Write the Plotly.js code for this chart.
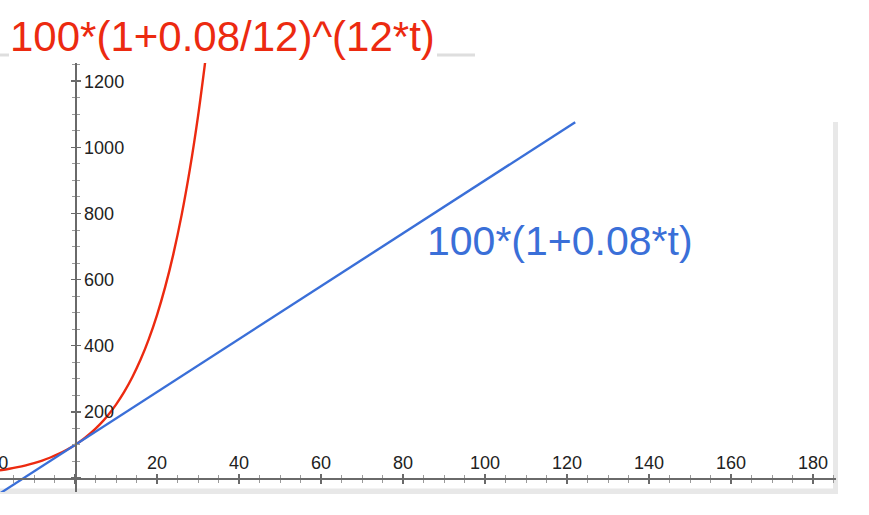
<!DOCTYPE html>
<html>
<head>
<meta charset="utf-8">
<script src="https://cdn.plot.ly/plotly-3.0.1.min.js"></script>
<style>
  html, body { margin: 0; padding: 0; background: #fff; overflow: hidden; }
  #wrap { width: 869px; height: 515px; overflow: hidden; position: relative; }
  #chart { position: absolute; left: -30px; top: 0; width: 899px; height: 515px; }
</style>
</head>
<body>
<div id="wrap"><div id="chart"></div></div>
<script>
// Compound interest curve: t (years) vs value
const compoundT = [-18.3, -16, -14, -12, -10, -8, -6, -4, -2, 0, 2, 4, 6, 8, 10, 12, 14, 16, 18, 20, 22, 24, 26, 28, 30, 32];
const compoundV = [23.3, 27.9, 32.7, 38.4, 45.0, 52.8, 62.0, 72.7, 85.3, 100, 117.3, 137.6, 161.4, 189.2, 222.0, 260.3, 305.4, 358.1, 420.1, 492.7, 577.9, 677.8, 795.0, 932.5, 1093.7, 1282.8];
// Simple interest line
const simpleT = [-18.3, 0, 122];
const simpleV = [-46.4, 100, 1076];

const compoundLabel = '100*(1+0.08/12)^(12*t)';
const simpleLabel = '100*(1+0.08*t)';

const SHIFT = 30;           // px the figure is shifted left
const PW = 866;             // plot width in px
const PT = 63, PB = 492;    // plot top / bottom in viewport px
const PH = PB - PT;
const px = v => (v + SHIFT) / PW;
const py = v => (PB - v) / PH;

const xRange = [(-SHIFT - 75) / 4.1, (836 - 75) / 4.1];
const yRange = [(478 - PB) / 0.33067, (478 - PT) / 0.33067];

const font = 'Liberation Sans, Arial, Helvetica, sans-serif';
const axisCol = '#6a6a6a';

const traces = [
  { x: compoundT, y: compoundV, type: 'scatter', mode: 'lines', line: { color: '#ec2a10', width: 2.4, shape: 'spline' }, hoverinfo: 'skip' },
  { x: simpleT, y: simpleV, type: 'scatter', mode: 'lines', line: { color: '#3a6fd8', width: 2.4 }, hoverinfo: 'skip' },
  { x: [], y: [], xaxis: 'x2', yaxis: 'y2', type: 'scatter', mode: 'lines', hoverinfo: 'skip', showlegend: false }
];

const xCommon = {
  range: xRange, anchor: 'free', position: py(478), side: 'top',
  showgrid: false, zeroline: false, showline: true, linecolor: axisCol, linewidth: 1.5,
  tickmode: 'linear', tick0: 0, dtick: 20, ticklen: 4, tickwidth: 1.5, tickcolor: axisCol,
  minor: { tickmode: 'linear', tick0: 0, dtick: 5, ticklen: 3, tickwidth: 1, tickcolor: '#9a9a9a', showgrid: false },
  fixedrange: true
};
const yCommon = {
  range: yRange, anchor: 'free', position: px(75), side: 'right',
  showgrid: false, zeroline: false, showline: true, linecolor: axisCol, linewidth: 1.5,
  tickmode: 'linear', tick0: 0, dtick: 200, ticklen: 4, tickwidth: 1.5, tickcolor: axisCol,
  minor: { tickmode: 'linear', tick0: 0, dtick: 50, ticklen: 3, tickwidth: 1, tickcolor: '#9a9a9a', showgrid: false },
  fixedrange: true
};

const layout = {
  width: 899, height: 515,
  margin: { l: 0, r: 33, t: PT, b: 515 - PB, pad: 0 },
  paper_bgcolor: '#ffffff', plot_bgcolor: '#ffffff',
  showlegend: false,
  xaxis: Object.assign({}, xCommon, {
    ticks: 'outside', showticklabels: true, labelalias: { '0': '' },
    minor: Object.assign({}, xCommon.minor, { ticks: 'outside' }),
    tickfont: { family: font, size: 18, color: '#222' }, ticklabelstandoff: -2
  }),
  xaxis2: Object.assign({}, xCommon, {
    overlaying: 'x', ticks: 'inside', showticklabels: false,
    minor: Object.assign({}, xCommon.minor, { ticks: 'inside' })
  }),
  yaxis: Object.assign({}, yCommon, {
    ticks: 'outside', showticklabels: true, labelalias: { '0': '' },
    minor: Object.assign({}, yCommon.minor, { ticks: 'outside' }),
    tickfont: { family: font, size: 18, color: '#222' }, ticklabelstandoff: 0
  }),
  yaxis2: Object.assign({}, yCommon, {
    overlaying: 'y', ticks: 'inside', showticklabels: false,
    minor: Object.assign({}, yCommon.minor, { ticks: 'inside' })
  }),
  shapes: [
    { type: 'rect', xref: 'paper', yref: 'paper', x0: px(-5), x1: px(9), y0: py(56.5), y1: py(53.5), fillcolor: '#dedede', line: { width: 0 }, layer: 'below' },
    { type: 'rect', xref: 'paper', yref: 'paper', x0: px(437), x1: px(475), y0: py(56.5), y1: py(53.5), fillcolor: '#dedede', line: { width: 0 }, layer: 'below' },
    { type: 'rect', xref: 'paper', yref: 'paper', x0: px(833), x1: px(838), y0: py(493), y1: py(122), fillcolor: '#e8e8e8', line: { width: 0 }, layer: 'below' },
    { type: 'rect', xref: 'paper', yref: 'paper', x0: px(-5), x1: px(838), y0: py(494), y1: py(488.5), fillcolor: '#e8e8e8', line: { width: 0 }, layer: 'below' }
  ],
  annotations: [
    { text: compoundLabel, xref: 'paper', yref: 'paper', x: px(222), y: py(36), xanchor: 'center', yanchor: 'middle', showarrow: false,
      font: { family: font, size: 42, color: '#ec2a10' } },
    { text: simpleLabel, xref: 'paper', yref: 'paper', x: px(560), y: py(241), xanchor: 'center', yanchor: 'middle', showarrow: false,
      font: { family: font, size: 41, color: '#3a6fd8' } }
  ]
};

Plotly.newPlot('chart', traces, layout, { staticPlot: true, displayModeBar: false });
</script>
</body>
</html>
